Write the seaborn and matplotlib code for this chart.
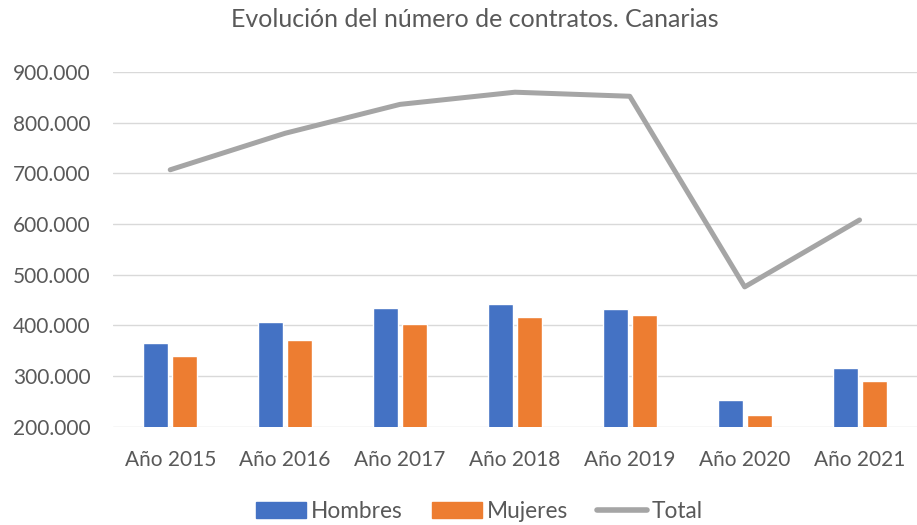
import pandas as pd
import matplotlib
matplotlib.use("Agg")
import matplotlib.pyplot as plt
import seaborn as sns
from matplotlib.ticker import FuncFormatter

# Data
years = ["Año 2015", "Año 2016", "Año 2017", "Año 2018", "Año 2019", "Año 2020", "Año 2021"]
hombres = [366000, 407000, 435000, 442000, 432000, 253000, 316000]
mujeres = [339000, 372000, 402000, 417000, 420000, 224000, 291000]
total = [707000, 779000, 836000, 860000, 852000, 476000, 608000]

df = pd.DataFrame({
    "Año": years * 2,
    "Contratos": hombres + mujeres,
    "Sexo": ["Hombres"] * len(years) + ["Mujeres"] * len(years),
})

sns.set_theme(style="white")
plt.rcParams['font.family'] = ['Lato', 'DejaVu Sans']
text_color = "#595959"

fig = plt.figure(figsize=(9.17, 5.25), dpi=100)
ax = fig.add_axes([0.123, 0.187, 0.877, 0.676])

sns.barplot(
    data=df, x="Año", y="Contratos", hue="Sexo",
    palette=["#4472c4", "#ed7d31"], width=0.506, gap=0.14, saturation=1,
    ax=ax, legend=False, zorder=2
)
sns.lineplot(x=list(range(len(years))), y=total, color="#a5a5a5",
             linewidth=3.6, ax=ax, zorder=3)

ax.set_ylim(200000, 900000)
ax.set_xlim(-0.5, len(years) - 0.5)
ax.set_yticks(range(200000, 900001, 100000))
ax.yaxis.set_major_formatter(FuncFormatter(lambda v, p: f"{int(v):,}".replace(",", ".")))
ax.grid(axis="y", color="#d9d9d9", linewidth=1.0, zorder=0)
ax.set_axisbelow(True)
for s in ax.spines.values():
    s.set_visible(False)
ax.set_xlabel("")
ax.set_ylabel("")
ax.tick_params(axis="y", length=0, pad=16, labelsize=15, labelcolor=text_color)
ax.tick_params(axis="x", length=0, pad=17, labelsize=15, labelcolor=text_color)

fig.suptitle("Evolución del número de contratos. Canarias", x=0.518, y=0.985,
             fontsize=18, color=text_color)

handles = [
    plt.Rectangle((0, 0), 1, 1, color="#4472c4"),
    plt.Rectangle((0, 0), 1, 1, color="#ed7d31"),
    plt.Line2D([0], [0], color="#a5a5a5", linewidth=4),
]
fig.legend(handles, ["Hombres", "Mujeres", "Total"], loc="center",
           bbox_to_anchor=(0.523, 1 - 511 / 525), ncol=3, frameon=False,
           fontsize=16.3, labelcolor=text_color, handlelength=2.2,
           handleheight=0.7, handletextpad=0.22, columnspacing=1.28)

fig.savefig("out.png", dpi=100)
